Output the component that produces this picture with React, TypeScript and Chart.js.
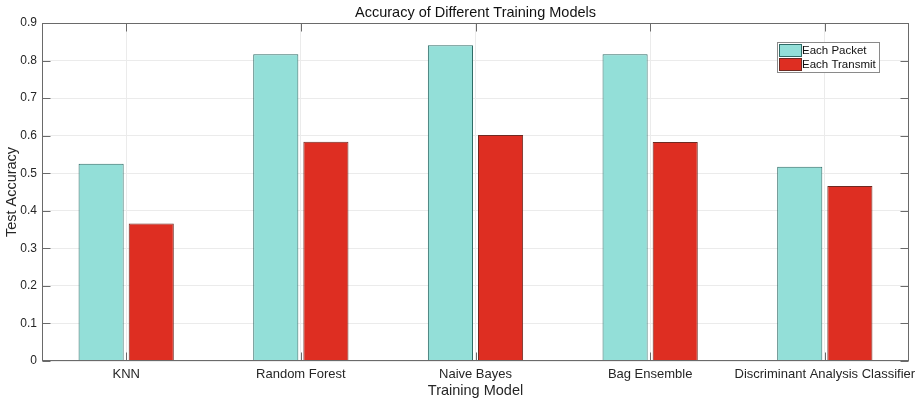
import React, { useEffect, useRef } from 'react';
import { Chart, registerables } from 'chart.js';

Chart.register(...registerables);

const categories = ['KNN', 'Random Forest', 'Naive Bayes', 'Bag Ensemble', 'Discriminant Analysis Classifier'];
const eachPacket = [0.525, 0.817, 0.841, 0.817, 0.517];
const eachTransmit = [0.366, 0.584, 0.602, 0.583, 0.466];
const seriesNames = ['Each Packet', 'Each Transmit'];
const yMin = 0;
const yMax = 0.9;
const yStep = 0.1;
const xPad = 0.482; // category-axis margin on each side (in category units)
const chartTitle = 'Accuracy of Different Training Models';
const xTitle = 'Training Model';
const yTitle = 'Test Accuracy';

const FONT = '"Liberation Sans", Arial, Helvetica, sans-serif';

const framePlugin = {
  id: 'matlabFrame',
  afterDraw(chart: any) {
    const { ctx, chartArea } = chart;
    const { left, right, top, bottom } = chartArea;
    const xs = chart.scales.x;
    const ys = chart.scales.y;
    ctx.save();
    ctx.strokeStyle = '#6a6a6a';
    ctx.lineWidth = 1;
    ctx.strokeRect(Math.round(left) + 0.5, Math.round(top) + 0.5, Math.round(right - left) - 1, Math.round(bottom - top) - 1);
    const tl = 8;
    const L = Math.round(left) + 0.5;
    const R = Math.round(right) - 0.5;
    const T = Math.round(top) + 0.5;
    const B = Math.round(bottom) - 0.5;
    ys.ticks.forEach((t: any) => {
      const y = Math.round(ys.getPixelForValue(t.value)) + 0.5;
      ctx.beginPath();
      ctx.moveTo(L, y);
      ctx.lineTo(L + tl, y);
      ctx.moveTo(R, y);
      ctx.lineTo(R - tl, y);
      ctx.stroke();
    });
    categories.forEach((_, i) => {
      const x = Math.round(xs.getPixelForTick(i)) + 0.5;
      ctx.beginPath();
      ctx.moveTo(x, B);
      ctx.lineTo(x, B - 8);
      ctx.moveTo(x, T);
      ctx.lineTo(x, T + 8);
      ctx.stroke();
    });
    ctx.fillStyle = '#111';
    ctx.font = `14.5px ${FONT}`;
    ctx.textAlign = 'center';
    ctx.textBaseline = 'middle';
    ctx.fillText(chartTitle, (left + right) / 2, 13);
    const lx = 777, ly = 42, lw = 102, lh = 30;
    ctx.fillStyle = '#ffffff';
    ctx.fillRect(lx, ly, lw, lh);
    ctx.strokeStyle = '#8a8a8a';
    ctx.strokeRect(lx + 0.5, ly + 0.5, lw, lh);
    ctx.font = `11.5px ${FONT}`;
    ctx.textAlign = 'left';
    chart.data.datasets.forEach((ds: any, i: number) => {
      const sy = ly + 2 + i * 14;
      ctx.fillStyle = ds.backgroundColor;
      ctx.fillRect(lx + 2, sy, 22, 12);
      ctx.strokeStyle = ds.borderColor;
      ctx.strokeRect(lx + 2.5, sy + 0.5, 22, 12);
      ctx.fillStyle = '#111';
      ctx.fillText(ds.label, lx + 25, sy + 6.5);
    });
    ctx.restore();
  },
};

export default function App() {
  const ref = useRef<HTMLCanvasElement>(null);
  useEffect(() => {
    if (!ref.current) return;
    Chart.defaults.font.family = FONT;
    const chart = new Chart(ref.current, {
      type: 'bar',
      data: {
        labels: categories,
        datasets: [
          {
            label: seriesNames[0],
            data: eachPacket,
            backgroundColor: '#93dfd8',
            borderColor: '#2f6b66',
            borderWidth: 1,
            barPercentage: 0.9,
            categoryPercentage: 0.574,
          },
          {
            label: seriesNames[1],
            data: eachTransmit,
            backgroundColor: '#de2e22',
            borderColor: '#6e2a22',
            borderWidth: 1,
            barPercentage: 0.9,
            categoryPercentage: 0.574,
          },
        ],
      },
      options: {
        responsive: false,
        animation: false,
        layout: { padding: { top: 23, right: 7, left: 0, bottom: 0 } },
        plugins: {
          legend: { display: false },
          title: { display: false },
          tooltip: { enabled: false },
        },
        scales: {
          x: {
            offset: true,
            grid: { offset: false, color: '#ebebeb', drawTicks: false },
            border: { display: false },
            ticks: { color: '#262626', font: { size: 13 }, padding: 6, maxRotation: 0, autoSkip: false },
            title: { display: true, text: xTitle, color: '#262626', font: { size: 14.5 }, padding: { top: 0, bottom: 1 } },
            afterBuildTicks(scale: any) {
              scale._startValue = -xPad;
              scale._valueRange = categories.length - 1 + 2 * xPad;
            },
            afterFit(scale: any) {
              scale.height = 40;
              scale.paddingLeft = 0;
              scale.paddingRight = 0;
            },
          },
          y: {
            min: yMin,
            max: yMax,
            grid: { color: '#ebebeb', drawTicks: false },
            border: { display: false },
            ticks: {
              stepSize: yStep,
              color: '#262626',
              font: { size: 12 },
              padding: 5,
              callback: (v: any) => (Number(v) === 0 ? '0' : Number(v).toFixed(1)),
            },
            title: { display: true, text: yTitle, color: '#262626', font: { size: 14.5 }, padding: { top: 3, bottom: 0 } },
            afterFit(scale: any) {
              scale.width = 42;
              scale.paddingTop = 0;
              scale.paddingBottom = 0;
            },
          },
        },
      },
      plugins: [framePlugin],
    });
    return () => chart.destroy();
  }, []);
  return (
    <canvas
      ref={ref}
      width={916}
      height={401}
      style={{ position: 'absolute', left: 0, top: 0, width: 916, height: 401 }}
    />
  );
}
